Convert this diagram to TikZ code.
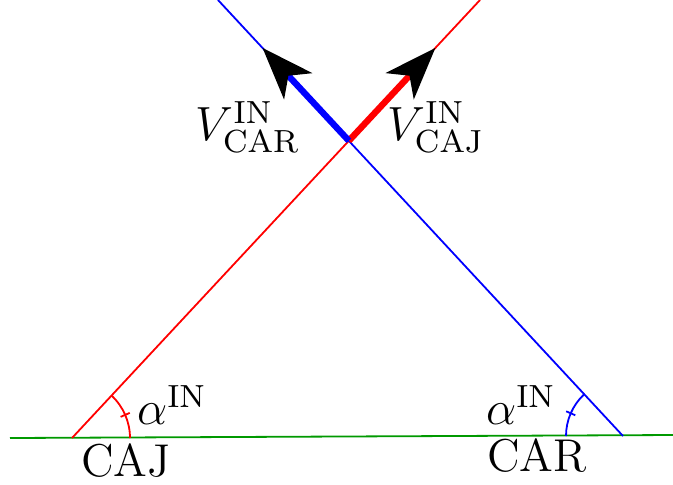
\documentclass[tikz,border=0pt]{standalone}
\usepackage{amsmath,amssymb}
\usetikzlibrary{arrows.meta,calc}
\definecolor{groundgreen}{RGB}{0,153,0}
\tikzset{
  vecarrow/.style={
    line width=1.6pt,
    -{Stealth[length=13pt,width=9.5pt,inset=3.5pt,black]}
  },
  thinline/.style={
    line width=0.45pt
  },
  every node/.style={
    font=\fontsize{11.5}{14}\selectfont
  }
}

\begin{document}
\begin{tikzpicture}[x=0.25pt,y=0.25pt]
            \useasboundingbox (0,0) rectangle (673,484);
            \coordinate (groundleft) at (10,46);
            \coordinate (groundright) at (673,49);
            \coordinate (caj) at (72,46);
            \coordinate (car) at (623,48);
            \coordinate (redtop) at (480,484);
            \coordinate (bluetop) at (218,484);
            \coordinate (meet) at (intersection of caj--redtop and car--bluetop);
            \draw[thinline,groundgreen] (groundleft)--(groundright);
            \draw[thinline,red] (caj)--(redtop);
            \draw[thinline,blue] (car)--(bluetop);
            \draw[vecarrow,red] (meet)--($(meet)!0.66!(redtop)$);
            \draw[vecarrow,blue] (meet)--($(meet)!0.66!(bluetop)$);
            % angle marks
            \draw[thinline,red] ($(caj)+(58,0)$) arc[start angle=0,end angle=47,radius=58];
            \draw[thinline,red] ($(caj)+(23.5:53)$)--($(caj)+(23.5:63)$);
            \draw[thinline,blue] ($(car)+(133:57)$) arc[start angle=133,end angle=180,radius=57];
            \draw[thinline,blue] ($(car)+(156.5:52)$)--($(car)+(156.5:62)$);
            \node (vcar) at (248,357) {$V^{\mathrm{IN}}_{\mathrm{CAR}}$};
            \node (vcaj) at (436,357) {$V^{\mathrm{IN}}_{\mathrm{CAJ}}$};
            \node (alphacaj) at (172,79) {$\alpha^{\mathrm{IN}}$};
            \node (alphacar) at (521,79) {$\alpha^{\mathrm{IN}}$};
            \node (cajlabel) at (126,23) {CAJ};
            \node (carlabel) at (537,28) {CAR};
        \end{tikzpicture}
\end{document}
